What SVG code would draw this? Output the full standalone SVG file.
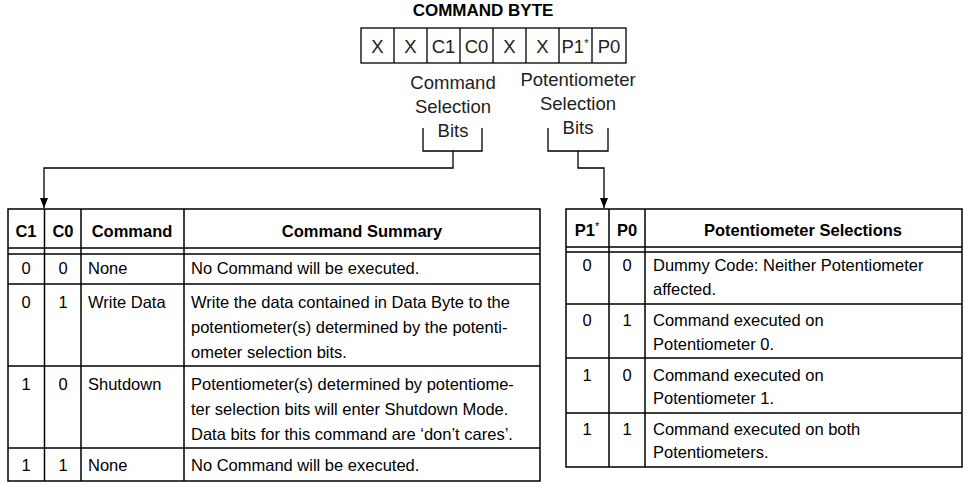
<svg xmlns="http://www.w3.org/2000/svg" width="976" height="485" viewBox="0 0 976 485">
<defs>
<style>
text{font-family:"Liberation Sans",Arial,sans-serif;font-size:16.5px;fill:#000}
.b{font-weight:bold}
.l{font-size:18.5px;fill:#222}
.m{text-anchor:middle}
.t{fill:none;stroke:#000;stroke-width:1.5}
.c{fill:none;stroke:#000;stroke-width:1.3}
</style>
<marker id="a" markerWidth="10" markerHeight="8" refX="10" refY="4" orient="auto" markerUnits="userSpaceOnUse"><path d="M0,0 L10,4 L0,8 Z" fill="#000"/></marker>
</defs>
<rect width="976" height="485" fill="#fff"/>
<g id="byte">
<text x="483" y="16" class="b m" style="font-size:17px">COMMAND BYTE</text>
<rect x="361" y="28" width="265" height="35" class="c"/>
<path d="M394,28V63M427,28V63M460,28V63M493,28V63M526,28V63M559,28V63M592,28V63" class="c"/>
<text x="377.5" y="53" class="l m">X</text><text x="410.5" y="53" class="l m">X</text><text x="443.5" y="53" class="l m">C1</text><text x="476.5" y="53" class="l m">C0</text><text x="509.5" y="53" class="l m">X</text><text x="542.5" y="53" class="l m">X</text><text x="575" y="53" class="l m">P1<tspan font-size="11" dy="-6">*</tspan></text><text x="609" y="53" class="l m">P0</text>
<text x="453" y="89" class="l m">Command</text><text x="453" y="113" class="l m">Selection</text><text x="453" y="137" class="l m">Bits</text>
<text x="578" y="86" class="l m">Potentiometer</text><text x="578" y="110" class="l m">Selection</text><text x="578" y="134" class="l m">Bits</text>
</g>
<g id="connectors">
<path d="M423,128V151H482V128M453,151V168H44V208" class="c" marker-end="url(#a)"/>
<path d="M548,128V151H608V128M578,151V168H604V208" class="c" marker-end="url(#a)"/>
</g>
<g id="command-table">
<rect x="8" y="209" width="532" height="272" class="t"/>
<path d="M8,248H540M8,254H540M8,284H540M8,366H540M8,448H540M44.5,209V481M81,209V481M184,209V481" class="t"/>
<text x="26" y="237" class="b m">C1</text><text x="63" y="237" class="b m">C0</text><text x="132" y="237" class="b m">Command</text><text x="362" y="237" class="b m">Command Summary</text>
<text x="26" y="274" class="m">0</text><text x="63" y="274" class="m">0</text><text x="88" y="274">None</text><text x="191" y="274">No Command will be executed.</text>
<text x="26" y="308" class="m">0</text><text x="63" y="308" class="m">1</text><text x="88" y="308">Write Data</text>
<text x="191" y="308">Write the data contained in Data Byte to the</text><text x="191" y="333">potentiometer(s) determined by the potenti-</text><text x="191" y="358">ometer selection bits.</text>
<text x="26" y="390" class="m">1</text><text x="63" y="390" class="m">0</text><text x="88" y="390">Shutdown</text>
<text x="191" y="390">Potentiometer(s) determined by potentiome-</text><text x="191" y="415">ter selection bits will enter Shutdown Mode.</text><text x="191" y="440">Data bits for this command are ‘don’t cares’.</text>
<text x="26" y="471" class="m">1</text><text x="63" y="471" class="m">1</text><text x="88" y="471">None</text><text x="191" y="471">No Command will be executed.</text>
</g>
<g id="pot-table">
<rect x="566" y="209" width="396" height="258" class="t"/>
<path d="M566,247H962M566,252H962M566,304H962M566,358H962M566,413H962M609,209V467M645,209V467" class="t"/>
<text x="587" y="236" class="b m">P1<tspan font-size="11" dy="-6" font-weight="normal">*</tspan></text><text x="627" y="236" class="b m">P0</text><text x="803" y="236" class="b m">Potentiometer Selections</text>
<text x="587" y="271" class="m">0</text><text x="627" y="271" class="m">0</text><text x="653" y="271">Dummy Code: Neither Potentiometer</text><text x="653" y="295">affected.</text>
<text x="587" y="326" class="m">0</text><text x="627" y="326" class="m">1</text><text x="653" y="326">Command executed on</text><text x="653" y="350">Potentiometer 0.</text>
<text x="587" y="381" class="m">1</text><text x="627" y="381" class="m">0</text><text x="653" y="381">Command executed on</text><text x="653" y="404">Potentiometer 1.</text>
<text x="587" y="435" class="m">1</text><text x="627" y="435" class="m">1</text><text x="653" y="435">Command executed on both</text><text x="653" y="458">Potentiometers.</text>
</g>
</svg>
